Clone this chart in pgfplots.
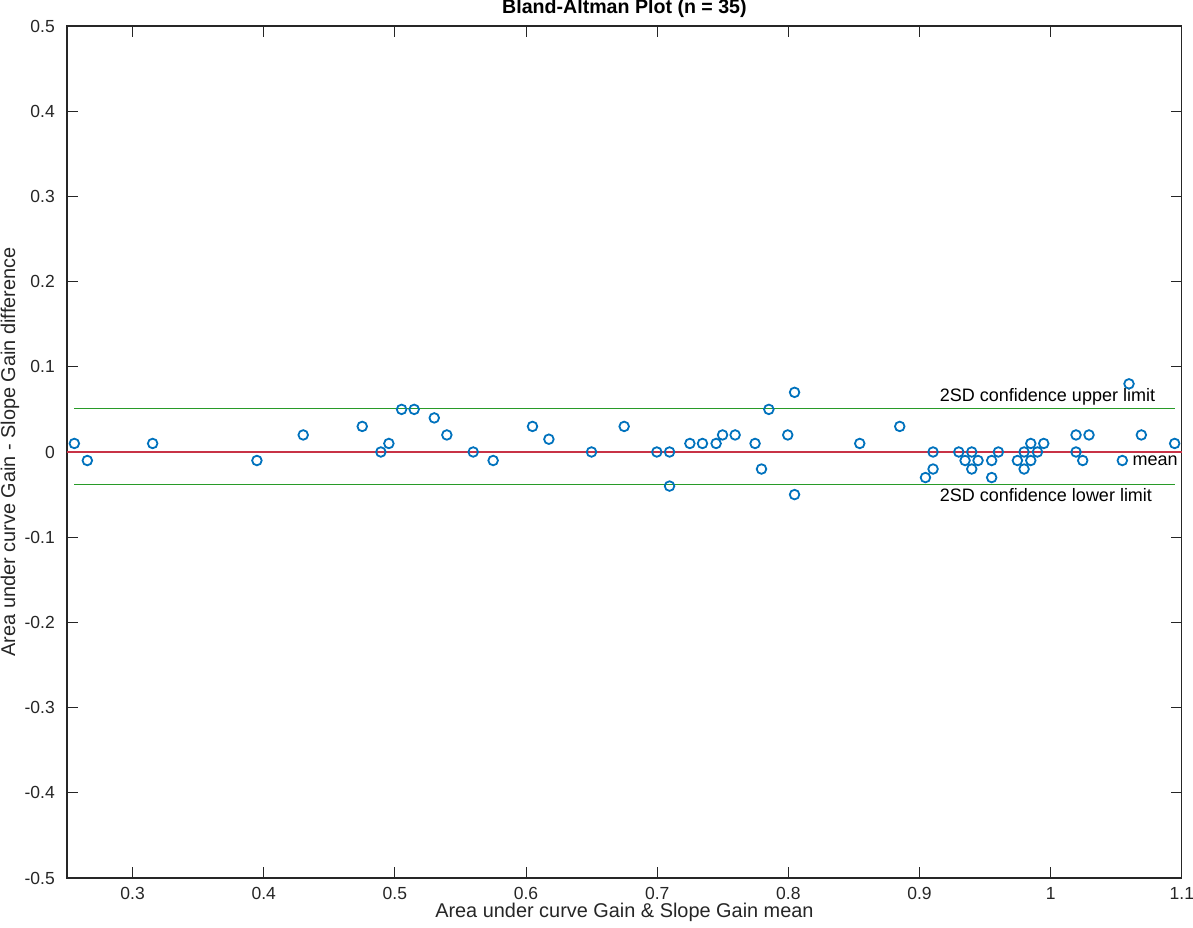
\documentclass[border=0pt]{standalone}
\usepackage{fontspec}
\setmainfont{Liberation Sans}
\usepackage{pgfplots}
\pgfplotsset{compat=1.18}
\definecolor{mblue}{RGB}{0,114,189}
\definecolor{mred}{RGB}{200,50,70}
\definecolor{mgreen}{RGB}{40,155,40}
\definecolor{axgray}{RGB}{38,38,38}
\pgfplotstableread{
x y
0.2556 0.01
0.2655 -0.01
0.3153 0.01
0.3948 -0.01
0.4301 0.02
0.4751 0.03
0.4893 0
0.4954 0.01
0.5051 0.05
0.5147 0.05
0.5300 0.04
0.5396 0.02
0.5597 0
0.5749 -0.01
0.6049 0.03
0.6174 0.015
0.6499 0
0.6748 0.03
0.6997 0
0.7094 0
0.7094 -0.04
0.7249 0.01
0.7345 0.01
0.7449 0.01
0.7498 0.02
0.7594 0.02
0.7746 0.01
0.7795 -0.02
0.7851 0.05
0.7995 0.02
0.8047 0.07
0.8047 -0.05
0.8544 0.01
0.8849 0.03
0.9045 -0.03
0.9103 0
0.9103 -0.02
0.9299 0
0.9347 -0.01
0.9398 0
0.9398 -0.02
0.9446 -0.01
0.9550 -0.01
0.9550 -0.03
0.9601 0
0.9746 -0.01
0.9797 0
0.9797 -0.02
0.9848 0.01
0.9848 -0.01
0.9899 0
0.9947 0.01
1.0193 0.02
1.0193 0
1.0244 -0.01
1.0292 0.02
1.0546 -0.01
1.0597 0.08
1.0691 0.02
1.0945 0.01
}\datatable
\begin{document}
\begin{tikzpicture}
\useasboundingbox (-67pt,-50pt) rectangle (1126pt,878pt);
\begin{axis}[
  at={(0pt,0pt)}, anchor=south west,
  scale only axis, width=1115pt, height=852pt,
  xmin=0.25, xmax=1.1, ymin=-0.5, ymax=0.5,
  xtick={0.3,0.4,0.5,0.6,0.7,0.8,0.9,1,1.1},
  xticklabels={0.3,0.4,0.5,0.6,0.7,0.8,0.9,1,1.1},
  ytick={-0.5,-0.4,-0.3,-0.2,-0.1,0,0.1,0.2,0.3,0.4,0.5},
  yticklabels={-0.5,-0.4,-0.3,-0.2,-0.1,0,0.1,0.2,0.3,0.4,0.5},
  tick align=inside, major tick length=11pt,
  axis line style={axgray, line width=1.1pt},
  every tick/.style={axgray, line width=1.1pt},
  /pgf/number format/assume math mode=true,
  ticklabel style={font=\fontsize{17.5}{20}\selectfont, text=axgray, inner sep=0pt},
  xticklabel style={anchor=base, yshift=-22pt},
  yticklabel style={anchor=east, xshift=-12pt},
  title={Bland-Altman Plot (n = 35)},
  title style={at={(axis description cs:0.5,1.00704)}, anchor=base, yshift=0pt, inner sep=0pt,
    font=\bfseries\fontsize{19.6}{22}\selectfont},
  xlabel={Area under curve Gain \& Slope Gain mean},
  xlabel style={at={(axis description cs:0.5,-0.0466)}, anchor=base, inner sep=0pt,
    font=\fontsize{19.9}{22}\selectfont, text=axgray},
  ylabel={Area under curve Gain - Slope Gain difference},
  ylabel style={at={(axis description cs:-0.0511,0.5)}, anchor=center, inner sep=0pt,
    font=\fontsize{19.9}{22}\selectfont, text=axgray},
  clip=false,
]
\addplot[mred, line width=1.7pt] coordinates {(0.25,0) (1.1,0)};
\addplot[mgreen, line width=1.7pt] coordinates {(0.2556,0.051) (1.0945,0.051)};
\addplot[mgreen, line width=1.7pt] coordinates {(0.2556,-0.038) (1.0945,-0.038)};
\addplot[only marks, mark=o, mark size=4.8pt, mark options={line width=1.8pt, draw=mblue}] table[x=x,y=y] {\datatable};
\node[anchor=base west, inner sep=0pt, font=\fontsize{18}{20}\selectfont] at (axis cs:0.9154,0.0587) {2SD confidence upper limit};
\node[anchor=base west, inner sep=0pt, font=\fontsize{18}{20}\selectfont] at (axis cs:1.0623,-0.0153) {mean};
\node[anchor=base west, inner sep=0pt, font=\fontsize{18}{20}\selectfont] at (axis cs:0.9154,-0.0583) {2SD confidence lower limit};
\end{axis}
\end{tikzpicture}
\end{document}
